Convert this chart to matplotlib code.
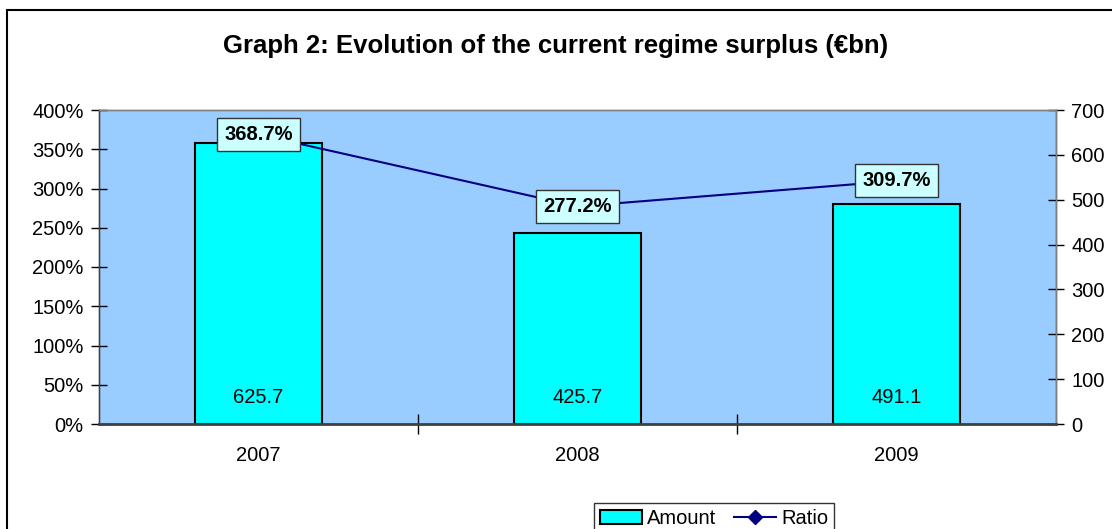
import numpy as np
import matplotlib.pyplot as plt
from matplotlib.patches import Rectangle

plt.rcParams['font.family'] = ['Liberation Sans', 'DejaVu Sans']

years = ['2007', '2008', '2009']
amount = [625.7, 425.7, 491.1]   # €bn, right axis
ratio = [368.7, 277.2, 309.7]    # %, left axis

W, H = 1112, 529
fig = plt.figure(figsize=(W / 100, H / 100), dpi=100)

# outer chart frame (runs off the right and bottom edges like the original)
fig.patches.append(Rectangle((7 / W, -0.05), 1.05, 1 - 10 / H + 0.05,
                             transform=fig.transFigure, fill=False,
                             edgecolor='black', linewidth=1.5))

left, right, top, bottom = 99, 1056, 110, 424
ax = fig.add_axes([left / W, 1 - bottom / H, (right - left) / W, (bottom - top) / H])
ax2 = ax.twinx()

x = np.arange(len(years))
fs = 14.5

# bars on the right-hand scale
ax2.set_facecolor('#99CCFF')
ax2.patch.set_visible(True)
ax2.bar(x, amount, width=0.4, color='#00FFFF', edgecolor='black',
        linewidth=1.5, label='Amount', zorder=2)
for xi, v in zip(x, amount):
    ax2.annotate(f'{v:.1f}', (xi, 0), xytext=(0, 19), textcoords='offset points',
                 ha='center', va='center', fontsize=fs)

# ratio line on the left-hand scale, drawn above the bars
ax.set_zorder(ax2.get_zorder() + 1)
ax.patch.set_visible(False)
ax.plot(x, ratio, color='#000080', linewidth=1.5, marker='D', markersize=7,
        label='Ratio', zorder=3)
for xi, v in zip(x, ratio):
    ax.annotate(f'{v:.1f}%', (xi, v), ha='center', va='center', fontsize=fs,
                fontweight='bold', zorder=5,
                bbox=dict(boxstyle='square,pad=0.35', facecolor='#CCFFFF',
                          edgecolor='#333333', linewidth=1))

ax.set_xlim(-0.5, len(years) - 0.5)
ax.set_ylim(0, 400)
ax2.set_ylim(0, 700)
ax.set_yticks(np.arange(0, 401, 50))
ax.set_yticklabels([f'{t}%' for t in range(0, 401, 50)])
ax2.set_yticks(np.arange(0, 701, 100))

ax.set_xticks(x)
ax.set_xticklabels(years)
ax.set_xticks([0.5, 1.5], minor=True)
ax.tick_params(axis='x', which='major', length=0, pad=16, labelsize=fs)
ax.tick_params(axis='x', which='minor', direction='inout', length=14, width=1, color='black')
ax.tick_params(axis='y', direction='inout', length=12, width=1, labelsize=fs, pad=5)
ax2.tick_params(axis='y', direction='inout', length=12, width=1, labelsize=fs, pad=5)

for a in (ax, ax2):
    for s in a.spines.values():
        s.set_color('#808080')
        s.set_linewidth(1)
ax.spines['bottom'].set_color('#404040')
ax.spines['bottom'].set_linewidth(2)
ax2.spines['right'].set_color('#404040')
ax.spines['left'].set_color('#404040')

fig.text(0.5, 1 - 46 / H, 'Graph 2: Evolution of the current regime surplus (€bn)',
         ha='center', va='center', fontsize=18.5, fontweight='bold')

h1, l1 = ax2.get_legend_handles_labels()
h2, l2 = ax.get_legend_handles_labels()
leg = fig.legend(h1 + h2, l1 + l2, loc='upper left', bbox_to_anchor=(594 / W, 1 - 503 / H),
                 ncol=2, fontsize=fs, frameon=True, fancybox=False, edgecolor='black',
                 borderpad=0.3, handlelength=2.1, handleheight=0.7, columnspacing=0.85,
                 handletextpad=0.25, borderaxespad=0)
leg.get_frame().set_linewidth(1)

fig.savefig('out.png', dpi=100)
